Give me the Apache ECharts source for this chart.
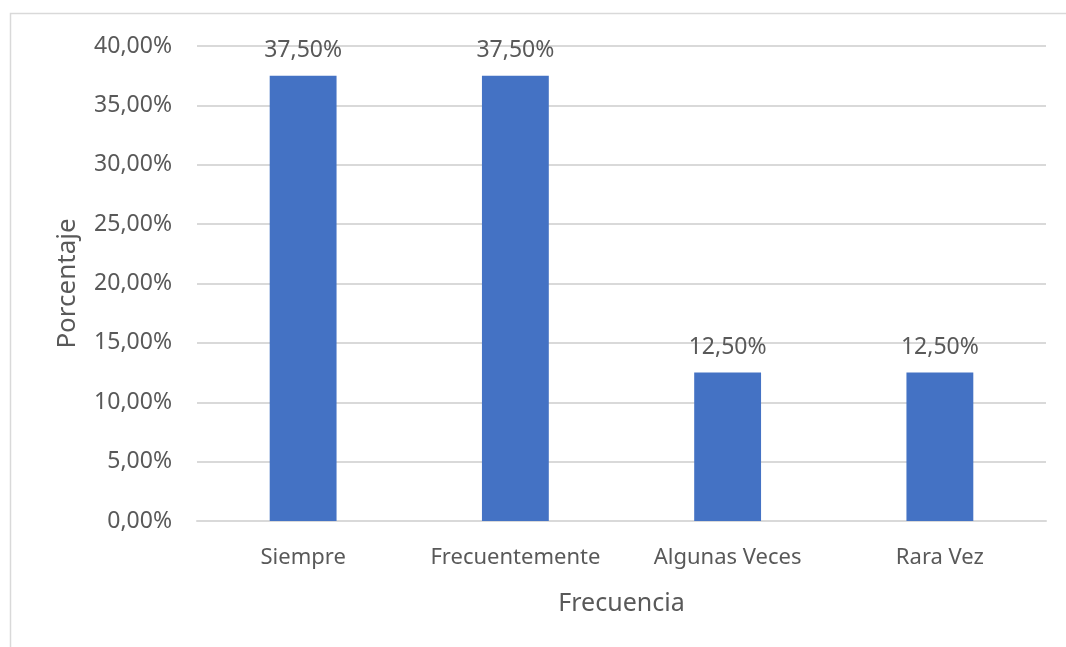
<!DOCTYPE html>
<html>
<head>
<meta charset="utf-8">
<script src="https://cdn.jsdelivr.net/npm/echarts@6/dist/echarts.min.js"></script>
<style>
  html, body { margin: 0; padding: 0; background: #fff; }
  #main { width: 1066px; height: 647px; }
</style>
</head>
<body>
<div id="main"></div>
<script>
var categories = ['Siempre', 'Frecuentemente', 'Algunas Veces', 'Rara Vez']
var porcentajes = [37.5, 37.5, 12.5, 12.5]
var yTicks = [0, 5, 10, 15, 20, 25, 30, 35, 40]

var textColor = '#595959'
var fontFamily = '"Noto Sans", "Open Sans", sans-serif'

function fmt (v) {
  return v.toFixed(2).replace('.', ',') + '%'
}

var myChart = echarts.init(document.getElementById('main'))

var option = {
  backgroundColor: '#fff',
  textStyle: { fontFamily: fontFamily },
  graphic: [{
    type: 'rect',
    shape: { x: 10.5, y: 13.5, width: 1100, height: 700 },
    style: { fill: 'none', stroke: '#d9d9d9', lineWidth: 1.5 },
    silent: true
  }],
  grid: { left: 197, right: 20, top: 46, bottom: 126 },
  xAxis: {
    type: 'category',
    data: categories,
    name: 'Frecuencia',
    nameLocation: 'middle',
    nameGap: 70,
    nameTextStyle: { color: textColor, fontSize: 25, fontFamily: fontFamily },
    axisLine: { lineStyle: { color: '#d9d9d9', width: 2 } },
    axisTick: { show: false },
    axisLabel: { color: textColor, fontSize: 22, margin: 26, interval: 0, hideOverlap: false, fontFamily: fontFamily }
  },
  yAxis: {
    type: 'value',
    min: yTicks[0],
    max: yTicks[yTicks.length - 1],
    interval: 5,
    name: 'Porcentaje',
    nameLocation: 'middle',
    nameGap: 116,
    nameRotate: 90,
    nameTextStyle: { color: textColor, fontSize: 26, fontFamily: fontFamily },
    axisLine: { show: false },
    axisTick: { show: false },
    splitLine: { lineStyle: { color: '#d9d9d9', width: 2 } },
    axisLabel: {
      color: textColor,
      fontSize: 23,
      margin: 25,
      fontFamily: fontFamily,
      formatter: function (v) { return fmt(v) }
    }
  },
  series: [{
    type: 'bar',
    data: porcentajes,
    barWidth: '31.5%',
    itemStyle: { color: '#4472c4' },
    label: {
      show: true,
      position: 'top',
      distance: 14,
      color: textColor,
      fontSize: 23,
      fontFamily: fontFamily,
      formatter: function (p) { return fmt(p.value) }
    }
  }]
}

myChart.setOption(option)
</script>
</body>
</html>
